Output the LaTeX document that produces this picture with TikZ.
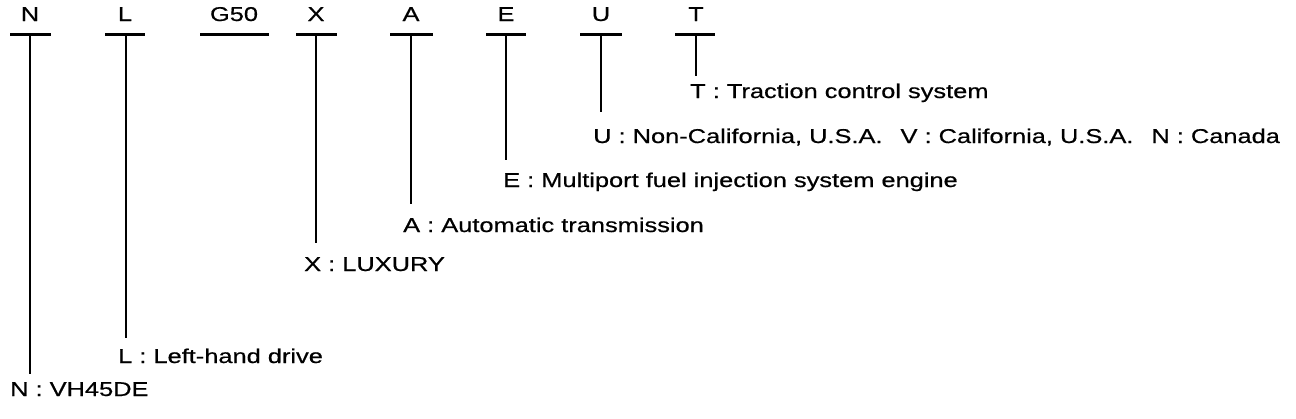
\documentclass[tikz,border=0pt]{standalone}
\usepackage{fontspec}
\setmainfont[FakeStretch=1.27,FakeBold=0.6]{Liberation Sans}
\begin{document}
\begin{tikzpicture}[x=1pt,y=-1pt,
  lab/.style={inner sep=0pt,anchor=base west,font=\fontsize{20}{24}\selectfont},
  code/.style={inner sep=0pt,anchor=base,font=\fontsize{20}{24}\selectfont},
  bar/.style={line width=3pt},
  lead/.style={line width=1.8pt}]
\useasboundingbox (0,0) rectangle (1296,418);
% code letters
\node[code] (cN) at (30,21) {N};
\node[code] (cL) at (125,21) {L};
\node[code] (cG) at (234,21) {G50};
\node[code] (cX) at (316,21) {X};
\node[code] (cA) at (411,21) {A};
\node[code] (cE) at (506,21) {E};
\node[code] (cU) at (601,21) {U};
\node[code] (cT) at (696,21) {T};
% bars
\draw[bar] (10,34) coordinate (bNl) -- (51,34) coordinate (bNr);
\draw[bar] (105,34) coordinate (bLl) -- (145,34) coordinate (bLr);
\draw[bar] (200,34) coordinate (bGl) -- (269,34) coordinate (bGr);
\draw[bar] (296,34) coordinate (bXl) -- (337,34) coordinate (bXr);
\draw[bar] (390,34) coordinate (bAl) -- (433,34) coordinate (bAr);
\draw[bar] (486,34) coordinate (bEl) -- (526,34) coordinate (bEr);
\draw[bar] (580,34) coordinate (bUl) -- (622,34) coordinate (bUr);
\draw[bar] (675,34) coordinate (bTl) -- (715,34) coordinate (bTr);
\coordinate (tN) at (30,34); \coordinate (eN) at (30,374);
\coordinate (tL) at (126,34); \coordinate (eL) at (126,338);
\coordinate (tX) at (316,34); \coordinate (eX) at (316,243);
\coordinate (tA) at (411,34); \coordinate (eA) at (411,204);
\coordinate (tE) at (506,34); \coordinate (eE) at (506,160);
\coordinate (tU) at (601,34); \coordinate (eU) at (601,112);
\coordinate (tT) at (696,34); \coordinate (eT) at (696,76);
\draw[lead] (tN) -- (eN);
\draw[lead] (tL) -- (eL);
\draw[lead] (tX) -- (eX);
\draw[lead] (tA) -- (eA);
\draw[lead] (tE) -- (eE);
\draw[lead] (tU) -- (eU);
\draw[lead] (tT) -- (eT);
% labels
\node[lab] (lT) at (690,98) {T : Traction control system};
\node[lab] (lU) at (593,143) {U : Non-California, U.S.A.\hspace{18pt}V : California, U.S.A.\hspace{18pt}N : Canada};
\node[lab] (lE) at (503,187) {E : Multiport fuel injection system engine};
\node[lab] (lA) at (403,232) {A : Automatic transmission};
\node[lab] (lX) at (304,271) {X : LUXURY};
\node[lab] (lL) at (118,363) {L : Left-hand drive};
\node[lab] (lN) at (10,396) {N : VH45DE};
\end{tikzpicture}
\end{document}
